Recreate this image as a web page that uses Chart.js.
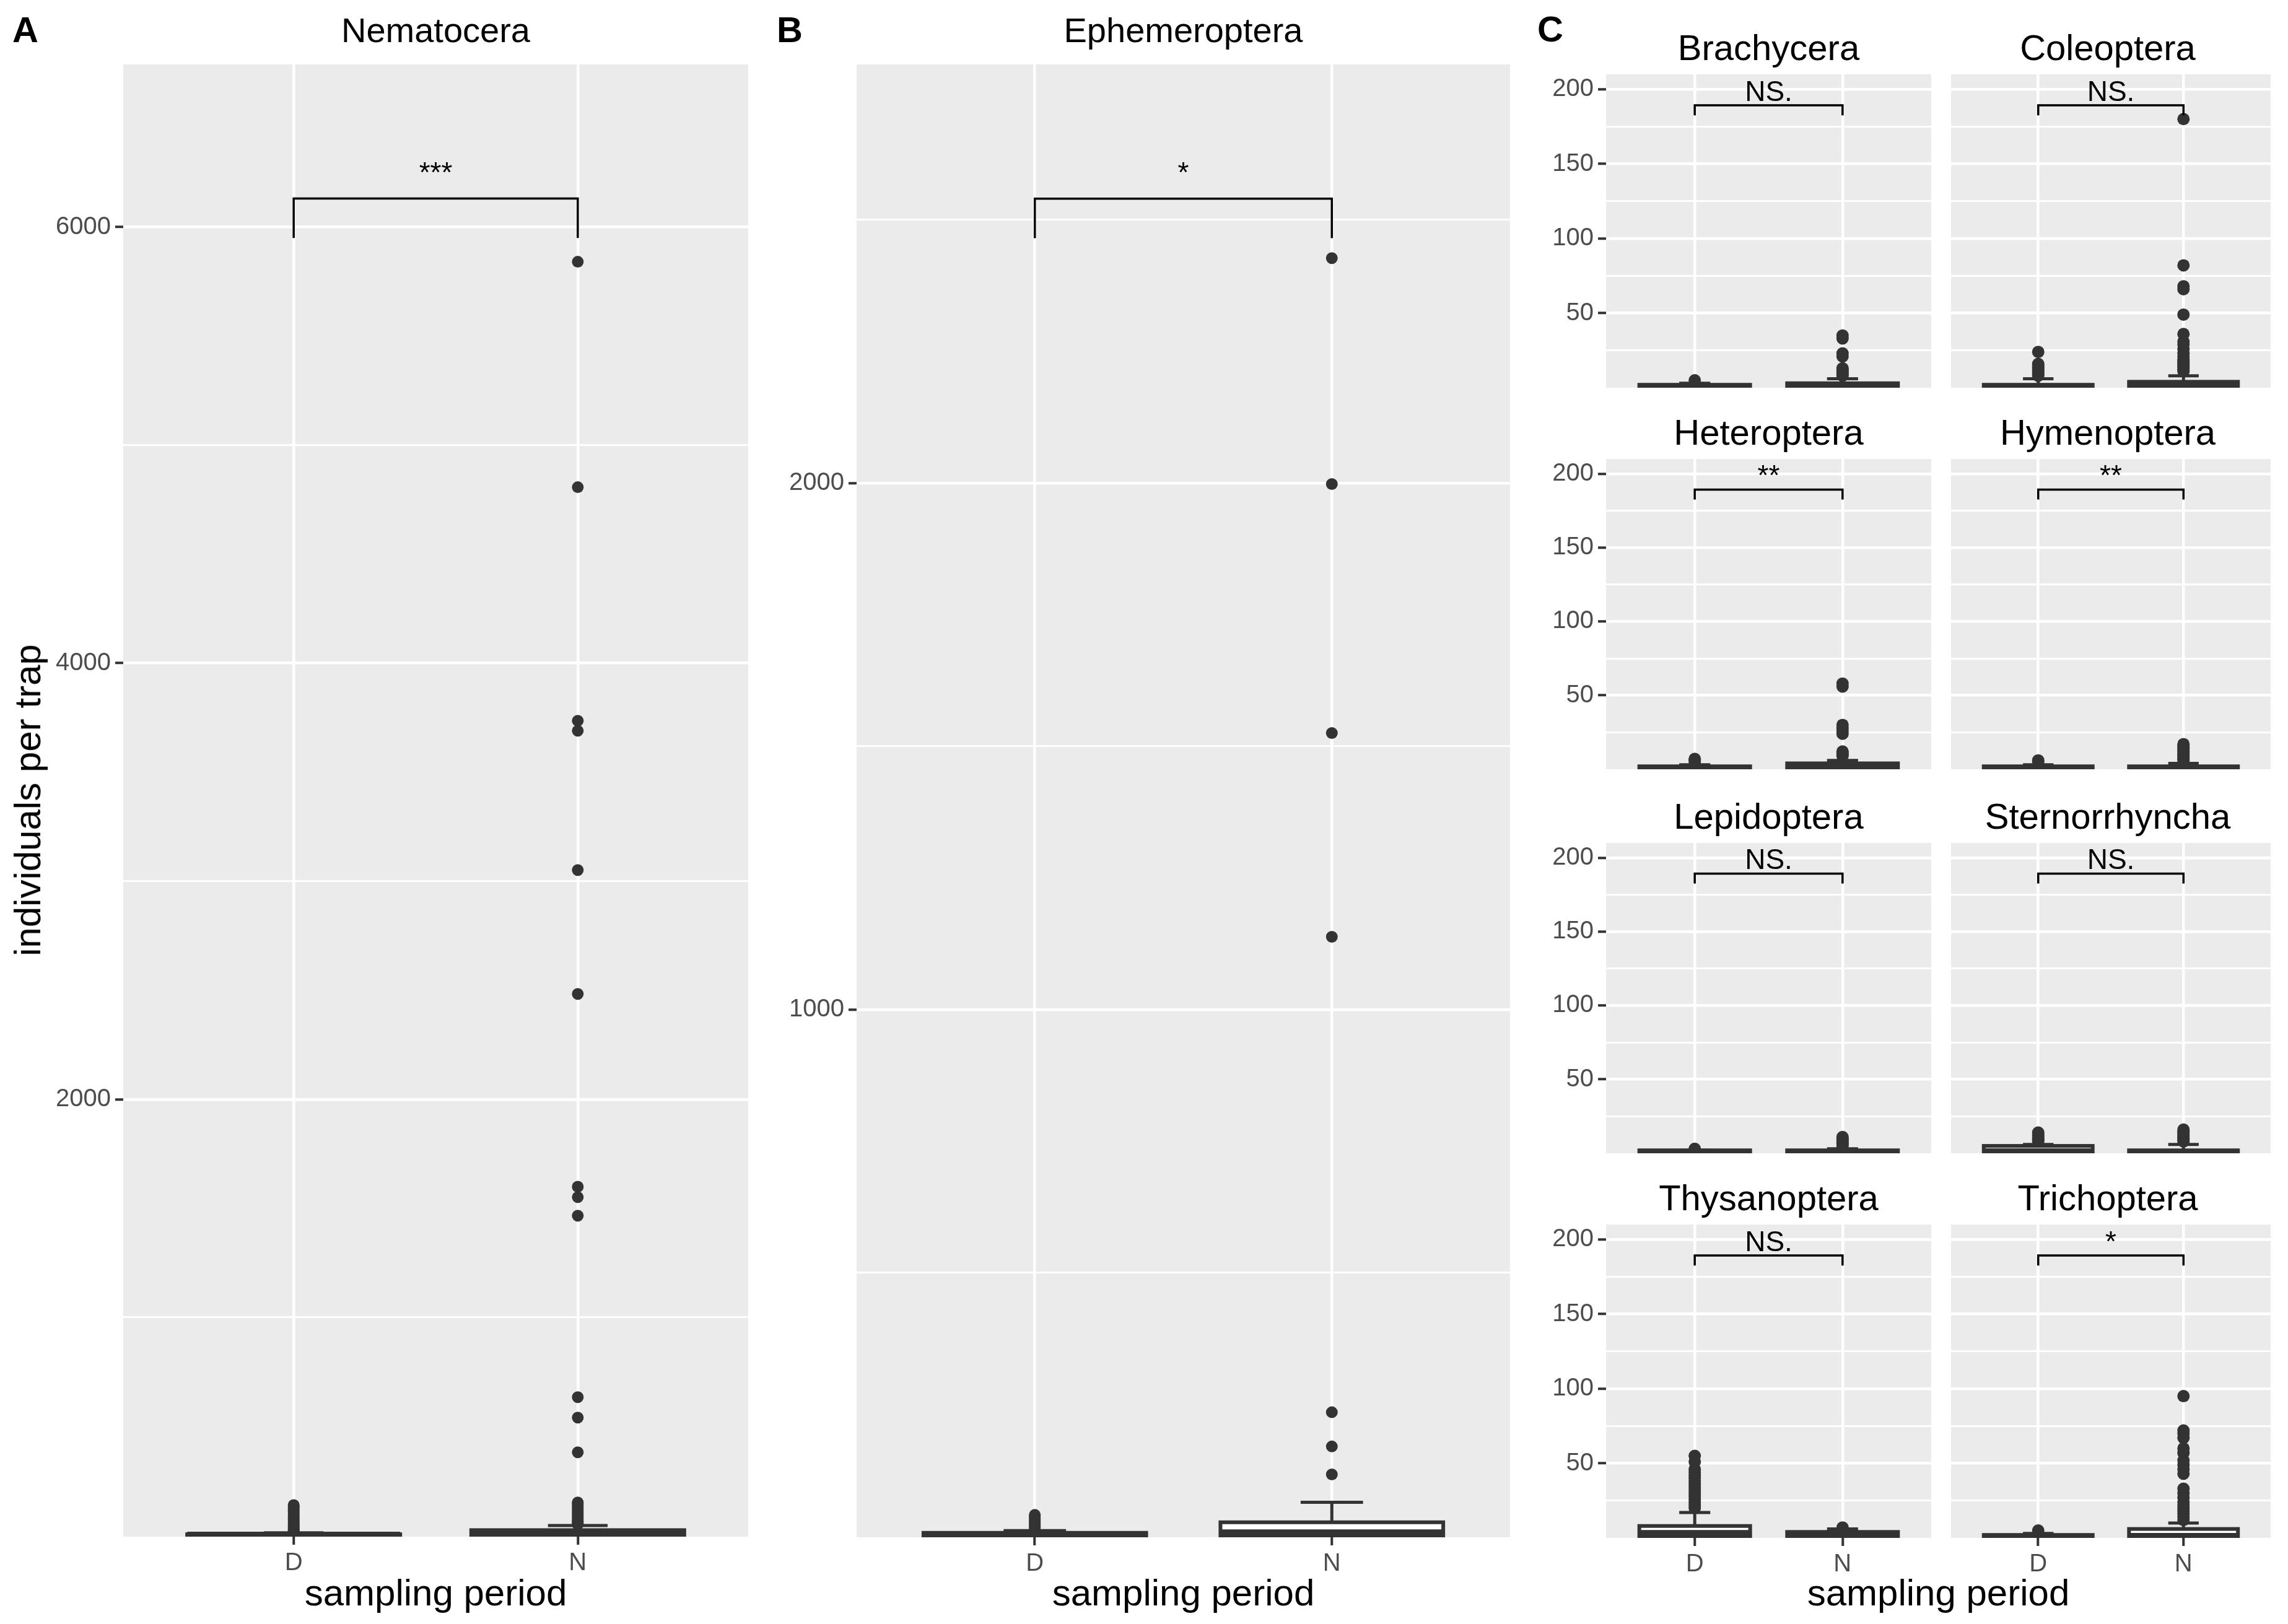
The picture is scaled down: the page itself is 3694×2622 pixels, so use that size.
<!DOCTYPE html>
<html><head><meta charset="utf-8">
<script src="https://cdn.jsdelivr.net/npm/chart.js@4.4.1/dist/chart.umd.min.js"></script>
<style>
html,body{margin:0;padding:0;background:#fff;}
#fig{position:relative;width:3694px;height:2622px;background:#fff;overflow:hidden;font-family:"Liberation Sans",Arial,sans-serif;}
#fig canvas{position:absolute;}
.t{position:absolute;white-space:nowrap;line-height:1;color:#000;}
</style></head><body><div id="fig"></div>
<script>
// ---------- categories & ticks ----------
const periods = ['D', 'N'];
const periodX = [1, 2];
const nemaMajor = [2000, 4000, 6000];
const nemaMinor = [1000, 3000, 5000];
const ephMajor = [1000, 2000];
const ephMinor = [500, 1500, 2500];
const cMajor = [50, 100, 150, 200];
const cMinor = [25, 75, 125, 175];

// ---------- box statistics: [q1, median, q3, lower whisker, upper whisker] for D, N ----------
const nemaStats = [[0, 1, 5, 0, 12], [0, 3, 24, 0, 45]];
const nemaOutD = [15, 19, 24, 29, 35, 41, 48, 55, 62, 70, 78, 86, 94, 102, 110, 118, 126, 133, 139];
const nemaOutN = [50, 56, 63, 70, 78, 86, 95, 104, 114, 124, 134, 144, 151, 381, 540, 634, 1466, 1551, 1599, 2483, 3051, 3690, 3736, 4807, 5841];
const nemaSig = ['***', 5950, 6131, 6205];

const ephStats = [[0, 1, 6, 0, 10], [0, 6, 26, 0, 64]];
const ephOutD = [13, 16, 19, 22, 25, 28, 31, 34, 37, 40];
const ephOutN = [117, 170, 235, 1138, 1525, 1998, 2427];
const ephSig = ['*', 2465, 2540, 2572];

const braStats = [[0, 0, 2, 0, 3], [0, 1, 3, 0, 6]];
const braOutD = [5];
const braOutN = [8, 9, 10, 11, 12, 13, 21, 23, 33, 35];
const coleStats = [[0, 0, 2, 0, 6], [0, 1, 4, 0, 8]];
const coleOutD = [8, 9, 10, 11, 12, 13, 14, 15, 16, 24];
const coleOutN = [11, 12, 13, 14, 15, 16, 17, 18, 19, 21, 23, 26, 29, 31, 36, 49, 66, 68, 82, 180];
const hetStats = [[0, 0, 2, 0, 3], [0, 1, 4, 0, 6]];
const hetOutD = [5, 6, 7];
const hetOutN = [9, 10, 11, 12, 24, 26, 28, 30, 56, 58];
const hymStats = [[0, 0, 2, 0, 3], [0, 0, 2, 0, 4]];
const hymOutD = [5, 6];
const hymOutN = [6, 7, 8, 9, 10, 11, 12, 13, 14, 15, 16, 17];
const lepStats = [[0, 0, 2, 0, 2], [0, 0, 2, 0, 3]];
const lepOutD = [3];
const lepOutN = [5, 6, 7, 8, 9, 10, 11];
const sterStats = [[0, 1, 5, 0, 6], [0, 0, 2, 0, 6]];
const sterOutD = [8, 9, 10, 11, 12, 13, 14];
const sterOutN = [8, 9, 10, 11, 12, 13, 14, 15, 16];
const thyStats = [[0, 3, 8, 0, 17], [0, 1, 4, 0, 6]];
const thyOutD = [20, 22, 24, 26, 28, 30, 32, 34, 36, 38, 40, 42, 44, 46, 51, 55];
const thyOutN = [7];
const triStats = [[0, 0, 2, 0, 3], [0, 1, 6, 0, 10]];
const triOutD = [5];
const triOutN = [12, 14, 16, 18, 20, 22, 24, 27, 30, 33, 43, 46, 49, 52, 57, 60, 67, 70, 72, 95];

const cSigNS = ['NS.', 182.5, 189.3, 192.3];
const cSig2 = ['**', 182.5, 189.3, 192.3];
const cSig1 = ['*', 182.5, 189.3, 192.3];

// ---------- rendering ----------
const FONT = "'Liberation Sans', Arial, sans-serif";
Chart.defaults.font.family = FONT;
const fig = document.getElementById('fig');

function text(str, x, baseline, size, opts = {}) {
  const d = document.createElement('div');
  d.className = 't';
  d.textContent = str;
  d.style.fontSize = size + 'px';
  d.style.fontWeight = opts.bold ? 'bold' : 'normal';
  d.style.top = (baseline - 0.8465 * size) + 'px';
  d.style.left = x + 'px';
  if (opts.center) d.style.transform = 'translateX(-50%)';
  fig.appendChild(d);
  return d;
}

const boxPlugin = {
  id: 'boxdraw',
  beforeDraw(chart) {
    const a = chart.chartArea, c = chart.ctx;
    c.save(); c.fillStyle = '#EBEBEB';
    c.fillRect(a.left, a.top, a.right - a.left, a.bottom - a.top);
    c.restore();
  },
  afterDatasetDraw(chart, args) {
    if (args.index !== 0) return;
    const p = chart.options.plugins.boxdraw;
    const xs = chart.scales.x, ys = chart.scales.y, a = chart.chartArea, c = chart.ctx;
    const Y = v => ys.getPixelForValue(v);
    const unit = xs.getPixelForValue(2) - xs.getPixelForValue(1);
    const ln = (x1, y1, x2, y2) => { c.beginPath(); c.moveTo(x1, y1); c.lineTo(x2, y2); c.stroke(); };
    c.save();
    c.beginPath(); c.rect(a.left, a.top, a.right - a.left, a.bottom - a.top); c.clip();
    c.strokeStyle = '#333333'; c.lineCap = 'butt';
    p.stats.forEach((s, i) => {
      const cx = xs.getPixelForValue(periodX[i]);
      const [q1, med, q3, lo, hi] = s;
      const hw = unit * 0.375, cw = unit * 0.105;
      c.lineWidth = 5;
      ln(cx, Y(q3), cx, Y(hi)); ln(cx, Y(q1), cx, Y(lo));
      ln(cx - cw, Y(hi), cx + cw, Y(hi)); ln(cx - cw, Y(lo), cx + cw, Y(lo));
      c.lineWidth = 6;
      c.strokeRect(cx - hw, Y(q3), 2 * hw, Y(q1) - Y(q3));
      c.lineWidth = 11;
      ln(cx - hw, Y(med), cx + hw, Y(med));
    });
    c.restore();
  },
  afterDatasetsDraw(chart) {
    const p = chart.options.plugins.boxdraw;
    const xs = chart.scales.x, ys = chart.scales.y, c = chart.ctx;
    const [lab, legV, topV, labV] = p.sig;
    const x1 = xs.getPixelForValue(periodX[0]), x2 = xs.getPixelForValue(periodX[1]);
    c.save();
    c.strokeStyle = '#000'; c.lineWidth = 3.5; c.lineJoin = 'miter';
    c.beginPath();
    c.moveTo(x1, ys.getPixelForValue(legV));
    c.lineTo(x1, ys.getPixelForValue(topV));
    c.lineTo(x2, ys.getPixelForValue(topV));
    c.lineTo(x2, ys.getPixelForValue(legV));
    c.stroke();
    c.fillStyle = '#000'; c.font = '46px ' + FONT; c.textAlign = 'center'; c.textBaseline = 'alphabetic';
    c.fillText(lab, (x1 + x2) / 2, ys.getPixelForValue(labV));
    c.restore();
  }
};

function panel(cfg) {
  const { l, t, r, b, yW, showY, showX, yMin, yMax, major, minor, stats, outD, outN, sig, radius } = cfg;
  const padTop = 40, padRight = 20, xH = showX ? 130 : 0, padBottom = showX ? 0 : 40;
  const cv = document.createElement('canvas');
  const w = yW + (r - l) + padRight, h = padTop + (b - t) + xH + padBottom;
  cv.width = w; cv.height = h;
  cv.style.left = (l - yW) + 'px'; cv.style.top = (t - padTop) + 'px';
  cv.style.width = w + 'px'; cv.style.height = h + 'px';
  fig.appendChild(cv);
  const allTicks = [...minor, ...major].sort((p, q) => p - q);
  const outliers = [];
  outD.forEach(v => outliers.push({ x: periodX[0], y: v }));
  outN.forEach(v => outliers.push({ x: periodX[1], y: v }));
  new Chart(cv, {
    type: 'bar',
    data: {
      datasets: [
        {
          type: 'bar', order: 2,
          data: stats.map((s, i) => ({ x: periodX[i], y: [s[0], s[2]] })),
          backgroundColor: '#FFFFFF', borderWidth: 0,
          barPercentage: 0.75, categoryPercentage: 1
        },
        {
          type: 'scatter', order: 1, showLine: false,
          data: outliers,
          pointRadius: radius, pointHoverRadius: radius,
          backgroundColor: '#333333', borderWidth: 0, pointStyle: 'circle'
        }
      ]
    },
    options: {
      responsive: false, animation: false, devicePixelRatio: 1,
      layout: { padding: { top: padTop, right: padRight, left: 0, bottom: padBottom } },
      plugins: { legend: { display: false }, tooltip: { enabled: false }, boxdraw: { stats, sig } },
      scales: {
        x: {
          type: 'linear', min: 0.4, max: 2.6, offset: false,
          afterBuildTicks: s => { s.ticks = periodX.map(v => ({ value: v })); },
          afterFit: s => { s.height = xH; },
          ticks: { display: showX, autoSkip: false, maxRotation: 0, padding: 6,
            callback: v => periods[periodX.indexOf(v)], color: '#4D4D4D', font: { size: 40, family: FONT } },
          grid: { offset: false, color: '#FFFFFF', lineWidth: 4.5, drawTicks: showX, tickLength: 13, tickColor: '#333333', tickWidth: 4 },
          border: { display: false }
        },
        y: {
          type: 'linear', min: yMin, max: yMax,
          afterBuildTicks: s => { s.ticks = allTicks.map(v => ({ value: v })); },
          afterFit: s => { s.width = yW; },
          ticks: { display: showY, autoSkip: false, padding: 7,
            callback: v => major.includes(v) ? String(v) : '', color: '#4D4D4D', font: { size: 40, family: FONT } },
          grid: { color: '#FFFFFF',
            lineWidth: c => (c.tick && major.includes(c.tick.value)) ? 4.5 : 3,
            drawTicks: showY, tickLength: 13,
            tickColor: c => (c.tick && major.includes(c.tick.value)) ? '#333333' : 'rgba(0,0,0,0)',
            tickWidth: 4 },
          border: { display: false }
        }
      }
    },
    plugins: [boxPlugin]
  });
}

// Panel A
panel({ l: 199, t: 104, r: 1208, b: 2481, yW: 190, showY: true, showX: true, yMin: -6, yMax: 6746,
  major: nemaMajor, minor: nemaMinor, stats: nemaStats, outD: nemaOutD, outN: nemaOutN, sig: nemaSig, radius: 9.5 });
// Panel B
panel({ l: 1383, t: 104, r: 2438, b: 2482, yW: 190, showY: true, showX: true, yMin: -2.5, yMax: 2795,
  major: ephMajor, minor: ephMinor, stats: ephStats, outD: ephOutD, outN: ephOutN, sig: ephSig, radius: 9.5 });

// Panel C grid
const cCols = [[2593, 3118], [3140, 3666]];
const cRows = [[120, 626], [741, 1242], [1361, 1862], [1977, 2483]];
const cPanels = [
  ['Brachycera', braStats, braOutD, braOutN, cSigNS],
  ['Coleoptera', coleStats, coleOutD, coleOutN, cSigNS],
  ['Heteroptera', hetStats, hetOutD, hetOutN, cSig2],
  ['Hymenoptera', hymStats, hymOutD, hymOutN, cSig2],
  ['Lepidoptera', lepStats, lepOutD, lepOutN, cSigNS],
  ['Sternorrhyncha', sterStats, sterOutD, sterOutN, cSigNS],
  ['Thysanoptera', thyStats, thyOutD, thyOutN, cSigNS],
  ['Trichoptera', triStats, triOutD, triOutN, cSig1]
];
cPanels.forEach((pd, i) => {
  const row = Math.floor(i / 2), col = i % 2;
  const [l, r] = cCols[col], [t, b] = cRows[row];
  panel({ l, t, r, b, yW: col === 0 ? 150 : 0, showY: col === 0, showX: row === 3, yMin: 0, yMax: 210,
    major: cMajor, minor: cMinor, stats: pd[1], outD: pd[2], outN: pd[3], sig: pd[4], radius: 10 });
  text(pd[0], (l + r) / 2, t - 23, 58, { center: true });
});

// Titles & labels
text('A', 20, 68, 58, { bold: true });
text('B', 1254, 68, 58, { bold: true });
text('C', 2482, 67, 58, { bold: true });
text('Nematocera', (199 + 1208) / 2, 68, 56, { center: true });
text('Ephemeroptera', (1383 + 2438) / 2, 68, 56, { center: true });
text('sampling period', (199 + 1208) / 2, 2593, 60, { center: true });
text('sampling period', (1383 + 2438) / 2, 2593, 60, { center: true });
text('sampling period', (2593 + 3666) / 2, 2593, 60, { center: true });
const yl = text('individuals per trap', 45, 0, 60);
yl.style.top = '1292px';
yl.style.transform = 'translate(-50%,-50%) rotate(-90deg)';
</script></body></html>
